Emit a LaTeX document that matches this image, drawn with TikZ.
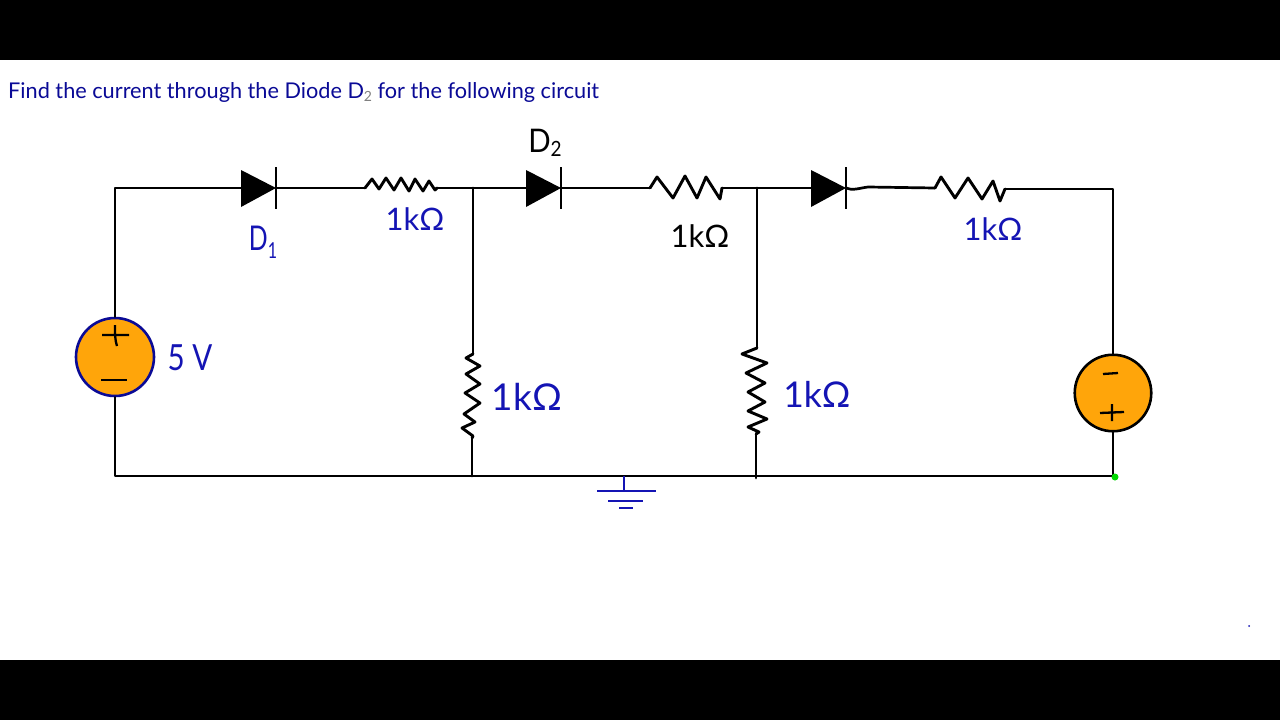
\documentclass[tikz,border=0pt]{standalone}
\usepackage{fontspec}
\setmainfont{Lato}
\definecolor{inkblue}{HTML}{1414B4}
\definecolor{titleblue}{HTML}{0A0A96}
\definecolor{srcorange}{HTML}{FFA50A}
\tikzset{
  wire/.style={line width=2.7pt,black,line cap=round,line join=round},
  zig/.style={line width=2.9pt,black,line join=round,line cap=round},
  thin wire/.style={line width=2.3pt,black},
  hand/.style={inkblue,font=\fontsize{31}{31}\selectfont,inner sep=0pt},
  handblack/.style={black,font=\fontsize{31}{31}\selectfont,inner sep=0pt},
  source/.style={circle,fill=srcorange,minimum size=#1,inner sep=0pt,line width=2.6pt},
  gnd/.style={line width=2.5pt,inkblue}
}
\newcommand{\diodeat}[3]{%
  \coordinate (#1a) at (#2,#3);
  \coordinate (#1k) at (#2+35,#3);
  \fill[black] (#2,#3-18) -- (#2+35,#3) -- (#2,#3+19) -- cycle;
  \draw[thin wire] (#2+35,#3-21) -- (#2+35,#3+21);
}
\begin{document}
\begin{tikzpicture}[x=1pt,y=-1pt]
\useasboundingbox (0,0) rectangle (1280,720);
\fill[white] (0,0) rectangle (1280,720);
\fill[black] (0,0) rectangle (1280,60);
\fill[black] (0,660) rectangle (1280,720);

\node[anchor=west,titleblue,inner sep=0pt,font=\fontsize{21.7}{22}\selectfont] (title) at (8,92.5)
  {Find the current through the Diode D\raisebox{-3pt}{\fontsize{14}{14}\selectfont\color{gray}2} for the following circuit};

% junctions
\coordinate (tl) at (115,188);
\coordinate (bl) at (115,476);
\coordinate (tj1) at (473,188);
\coordinate (tj2) at (757,188);
\coordinate (tr) at (1113,189);
\coordinate (bj1) at (472,476);
\coordinate (bj2) at (756,476);
\coordinate (br) at (1113,476);
\coordinate (gndtop) at (624,476);

% sources
\node[source=78pt,draw=titleblue] (vs) at (115,357) {};
\node[source=76.5pt,draw=black] (vr) at (1113,393) {};

% diodes
\diodeat{da}{241}{188}
\diodeat{db}{526}{188}
\diodeat{dc}{811}{188}

% resistor ends
\coordinate (r1a) at (365,188); \coordinate (r1b) at (437,188);
\coordinate (r2a) at (650,188); \coordinate (r2b) at (722,188);
\coordinate (r3a) at (935,188); \coordinate (r3b) at (1005,189);
\coordinate (r4a) at (473,354); \coordinate (r4b) at (472,438);
\coordinate (r5a) at (757,348); \coordinate (r5b) at (756,434);

% wires
\draw[wire] (vs.north) -- (tl) -- (daa);
\draw[wire] (dak) -- (r1a);
\draw[wire] (r1b) -- (dba);
\draw[wire] (dbk) -- (r2a);
\draw[wire] (r2b) -- (dca);
\draw[wire] (dck) .. controls (852,191) and (860,188) .. (868,187) -- (r3a);
\draw[wire] (r3b) -- (tr) -- (vr.north);
\draw[wire] (vs.south) -- (bl) -- (br) -- (vr.south);
\draw[wire] (tj1) -- (r4a);
\draw[wire] (r4b) -- (bj1);
\draw[wire] (tj2) -- (r5a);
\draw[wire] (r5b) -- (bj2) -- ++(0,2);

% resistors
\draw[zig] (r1a) -- (372,179) -- (379,189) -- (386,178) -- (394,190) -- (401,178) -- (409,191) -- (415,179) -- (423,191) -- (429,181) -- (435,190) -- (r1b);
\draw[zig] (r2a) -- (657,177) -- (673,198) -- (685,176) -- (697,198) -- (706,177) -- (720,199) -- (r2b);
\draw[zig] (r3a) -- (941,177) -- (955,198) -- (968,178) -- (982,199) -- (993,181) -- (1000,201) -- (r3b);
\draw[zig] (r4a) -- (466,358) -- (480,366) -- (466,374) -- (480,384) -- (465,393) -- (480,403) -- (464,414) -- (475,422) -- (462,428) -- (473,436) -- (r4b);
\draw[zig] (r5a) -- (742,354) -- (767,363) -- (746,373) -- (765,383) -- (748,392) -- (765,402) -- (748,411) -- (767,419) -- (748,427) -- (759,432) -- (r5b);

% polarity
\draw[thin wire] (102,335) -- (129,335) (115,325) .. controls (115,335) and (115,340) .. (117,346);
\draw[thin wire] (101,380) -- (127,380);
\draw[thin wire] (1103,374) -- (1118,373);
\draw[thin wire] (1100,413) -- (1124,412) (1112,404) -- (1112,421);

% ground
\draw[gnd] (gndtop) -- (624,491);
\coordinate (g1a) at (597,491); \coordinate (g1b) at (656,491);
\draw[gnd] (g1a) -- (g1b);
\draw[gnd] (608,501) -- (643,501);
\draw[gnd] (619,508) -- (633,508);

% green dot
\fill[green!85!black] (1115,477) circle (3.5);
\fill[inkblue] (1249,626) circle (1);

% labels
\node[hand] (ld1) at (263,242) {\scalebox{0.8}[1.1]{D\raisebox{-7pt}{\fontsize{20}{20}\selectfont 1}}};
\node[handblack] (ld2) at (545,143) {\scalebox{0.95}[1.05]{D\raisebox{-4pt}{\fontsize{20}{20}\selectfont 2}}};
\node[hand] (lr1) at (415,219) {1kΩ};
\node[handblack] (lr2) at (700,236) {1kΩ};
\node[hand] (lr3) at (993,229) {1kΩ};
\node[hand,font=\fontsize{37}{37}\selectfont] (lr4) at (527,397) {1kΩ};
\node[hand,font=\fontsize{35.5}{36}\selectfont] (lr5) at (817,394) {1kΩ};
\node[hand,font=\fontsize{36}{36}\selectfont] (lv) at (190,358) {\scalebox{0.82}[1]{5 V}};
\end{tikzpicture}
\end{document}
